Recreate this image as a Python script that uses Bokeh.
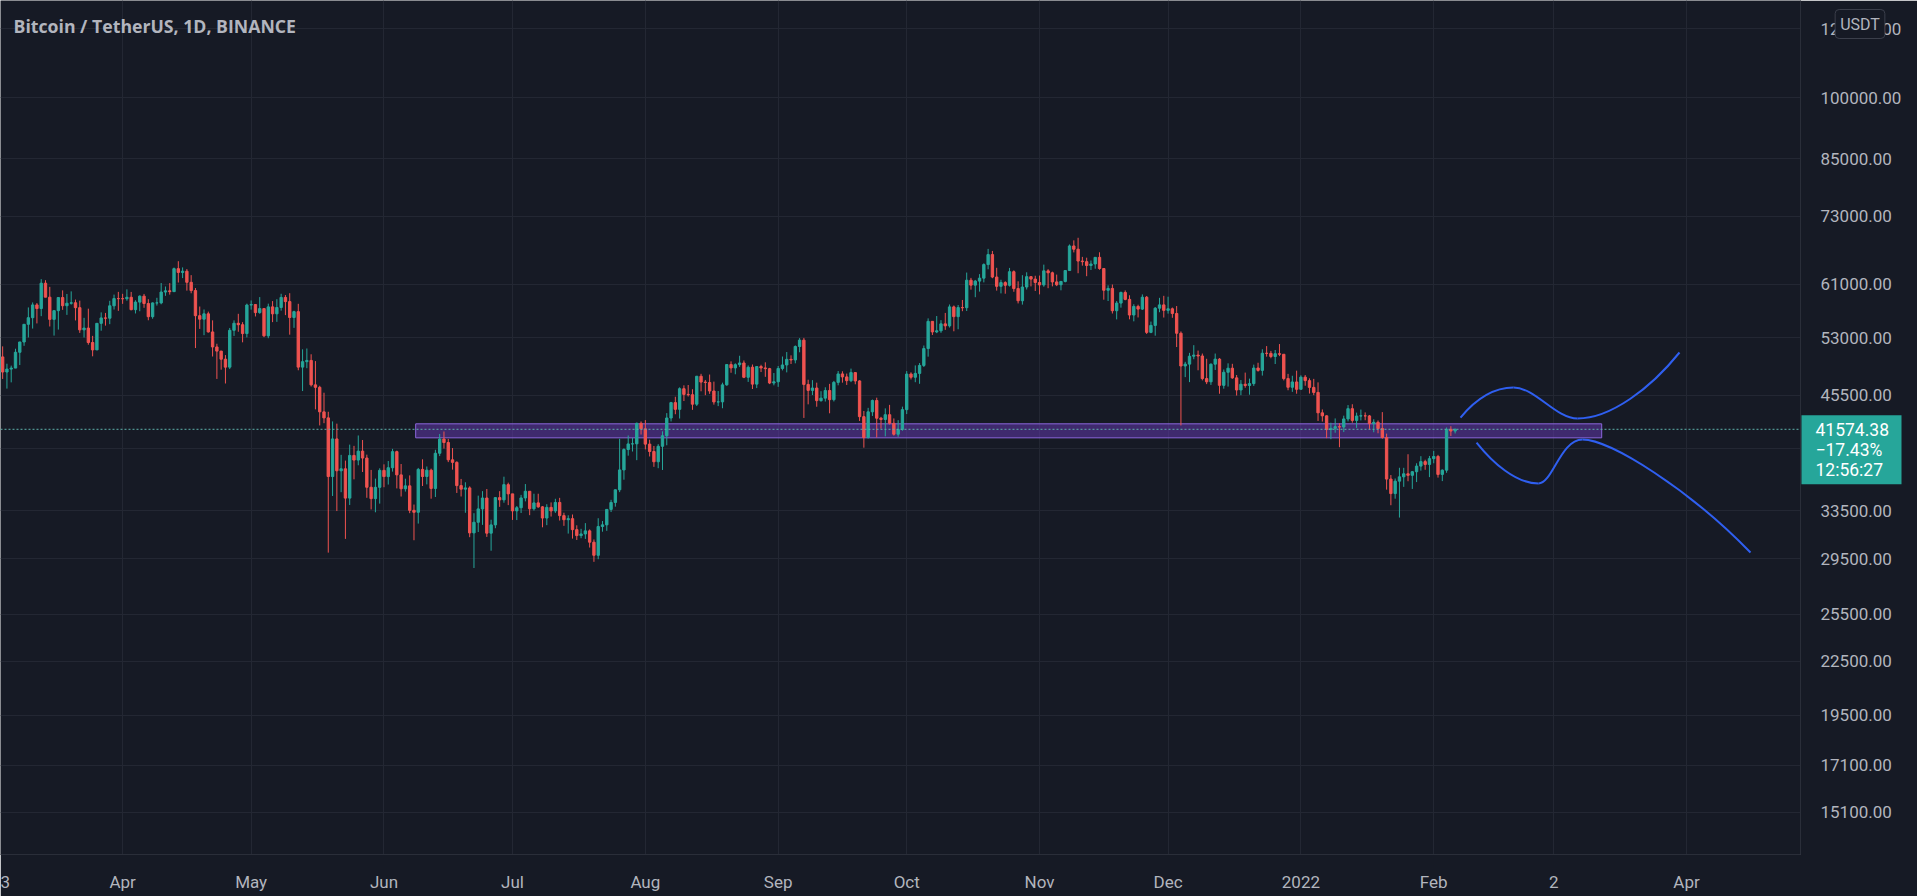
import numpy as np
import pandas as pd
from bokeh.plotting import figure
from bokeh.models import (FixedTicker, PrintfTickFormatter, Span, Label, Range1d, ColumnDataSource, Row)
from bokeh.embed import file_html
from bokeh.resources import INLINE

# ---------------- data (BTCUSDT daily) ----------------
start_date = "2021-03-03"
first_open = 48436.0

close = [
    # Mar 3 - Mar 31
    50349, 48374, 48751, 48882, 50971, 52375, 54884, 55851, 57773, 57221, 61188, 58968, 55605, 56900, 58912,
    57648, 58030, 58102, 57351, 54083, 54340, 52303, 51293, 55025, 55817, 55777, 57635, 58746, 58740,
    # Apr
    58720, 58950, 57051, 58202, 59129, 57992, 56000, 58080, 58083, 59774, 59964, 59835, 63588, 62959, 63159,
    61334, 60006, 56150, 55633, 56425, 53787, 51690, 51125, 50047, 49004, 54021, 55034, 54824, 53555, 57750,
    # May
    57828, 56610, 57213, 53241, 57473, 56428, 57380, 58928, 58280, 55883, 56750, 49007, 49716, 49880, 46760,
    46457, 43538, 42849, 36690, 40526, 37252, 37449, 34655, 38796, 38324, 39241, 38529, 35664, 34607, 35658, 37293,
    # Jun
    36687, 37555, 39187, 36851, 35520, 35797, 33552, 33380, 37389, 36693, 37313, 35551, 39020, 40516, 40144,
    38349, 38092, 35820, 35484, 35600, 31608, 32510, 33678, 34663, 31584, 32283, 34700, 34494, 35911, 35045,
    # Jul
    33504, 33786, 34669, 35287, 33690, 34220, 33863, 32875, 33815, 33502, 34259, 33086, 32729, 32820, 31880,
    31383, 31520, 31778, 30839, 29790, 32144, 32287, 33634, 34258, 35425, 37337, 39406, 39995, 40008, 42235, 41626,
    # Aug
    39975, 39201, 38153, 39747, 40870, 42836, 44614, 43829, 46286, 45596, 45553, 44428, 47835, 47107, 47049,
    46005, 44696, 44705, 46761, 49339, 48906, 49322, 49546, 47707, 48992, 46851, 49078, 48898, 48807, 46990, 47144,
    # Sep
    48833, 49287, 50026, 49944, 51753, 52633, 46812, 46082, 46368, 44848, 45144, 46063, 44964, 47069, 48130,
    47754, 47281, 48300, 47247, 42986, 40679, 43540, 44865, 42811, 42670, 43208, 42236, 41034, 41564, 43790,
    # Oct
    48116, 47711, 48200, 49225, 51472, 55315, 53785, 53951, 54950, 54659, 57471, 56006, 57367, 57347, 61672,
    60875, 61528, 62009, 64280, 66001, 62193, 60688, 61286, 60852, 63078, 60328, 58413, 60575, 62253, 61859, 61299,
    # Nov
    60911, 63219, 62896, 61395, 60937, 61470, 63273, 67525, 66947, 64882, 64774, 64122, 64380, 65520, 63606,
    60058, 60345, 56891, 58052, 59707, 58623, 56247, 57541, 57138, 58960, 53726, 54721, 57274, 57776, 56951,
    # Dec
    57184, 56480, 53601, 49152, 49396, 50441, 50588, 50471, 47545, 47140, 49389, 50053, 46702, 48343, 48864,
    47632, 46131, 46834, 46681, 46914, 48889, 48588, 50838, 50820, 50400, 50775, 50701, 47543, 46464, 47120, 46216,
    # Jan 2022
    47722, 47286, 46446, 45833, 43425, 43081, 41546, 41678, 41864, 41822, 42729, 43902, 42560, 43059, 43084,
    43071, 42201, 42352, 41660, 40680, 36445, 35071, 36244, 36660, 36958, 36809, 37160, 37716, 38166, 37881, 38466,
    # Feb 1 - Feb 6
    38690, 36896, 37311, 41571, 41382, 41574.38,
]

high = [
    52640, 51773, 49448, 49200, 51450, 52402, 54900, 57387, 58150, 58058, 61844, 61683, 60600, 56938, 58981,
    60040, 59468, 59880, 58592, 58430, 55830, 57200, 53229, 55073, 56640, 56559, 58405, 59368, 59800,
    59490, 60200, 59791, 58493, 59250, 59475, 58650, 58153, 58869, 61218, 60658, 61200, 63774, 64854, 63800,
    63520, 62506, 60408, 57526, 57076, 56757, 55460, 52130, 51166, 50591, 54356, 55460, 56428, 55195, 57963,
    58458, 57911, 58981, 57200, 57964, 58360, 58650, 59500, 59300, 59592, 56888, 57939, 51367, 51483, 50700,
    49795, 46643, 45799, 43546, 42451, 42200, 38856, 38270, 39920, 39791, 40900, 40411, 38877, 37338, 36488, 37499,
    37894, 38225, 39476, 39289, 37925, 36480, 36800, 34068, 37534, 38400, 37680, 37463, 39380, 41064, 41330,
    40528, 39560, 38200, 36457, 36137, 35750, 33298, 34881, 35298, 35500, 32730, 34749, 35297, 36675, 36100,
    35035, 33939, 34952, 35967, 35293, 35059, 35059, 33929, 34100, 34262, 34592, 34678, 33340, 33114, 33185,
    32249, 31949, 32435, 31899, 31063, 32858, 32615, 33650, 34500, 35450, 40550, 39542, 40900, 40640, 42316, 42448,
    42600, 40446, 39780, 39969, 41350, 43392, 44700, 45310, 46454, 46700, 46743, 46218, 47886, 48144, 47372,
    48053, 47160, 46000, 47033, 49382, 49757, 49500, 50500, 49875, 49229, 49347, 49149, 49309, 49632, 48908, 48246,
    49150, 50400, 51000, 50558, 51900, 52920, 52944, 47400, 47346, 47033, 45980, 46460, 46880, 47250, 48500,
    48469, 48176, 48813, 48372, 47337, 43639, 44000, 44978, 45200, 42966, 43937, 44350, 42787, 42590, 44141,
    48495, 48336, 49228, 49536, 51886, 55750, 55333, 56100, 55490, 56561, 57839, 57680, 57750, 58532, 62933,
    62055, 61720, 62675, 64486, 67000, 66639, 63732, 61747, 61500, 63710, 63293, 61496, 62499, 62980, 62359, 62405,
    62437, 64270, 63500, 63086, 62595, 61560, 63286, 67789, 68530, 69000, 65600, 65460, 64971, 65550, 66401,
    63617, 60840, 60976, 58366, 59845, 60029, 59266, 57875, 57803, 59398, 59150, 55280, 57445, 58865, 59176,
    59041, 57375, 57600, 53859, 49699, 50891, 51936, 51200, 50797, 50099, 49485, 50797, 50189, 48700, 49500,
    49436, 47995, 47360, 48300, 47537, 49328, 49576, 51375, 51810, 51156, 51280, 52088, 50704, 48139, 47900, 48548,
    47954, 47990, 47570, 47505, 47070, 43816, 43145, 42300, 42786, 42248, 43100, 44322, 44423, 43448, 43800,
    43475, 43179, 42691, 42559, 43505, 41100, 36835, 36499, 37550, 37545, 38919, 37234, 38000, 38720, 38359, 38744,
    39265, 38855, 37387, 41772, 41913, 41650,
]

low = [
    48100, 47500, 46300, 47070, 48880, 49274, 51846, 53005, 54269, 55012, 56078, 58966, 54568, 53271, 54123,
    57023, 56270, 57820, 55450, 53650, 53000, 52000, 50427, 51262, 53962, 54691, 54901, 57071, 56873,
    57935, 58414, 56956, 56478, 56817, 57333, 55473, 55700, 57672, 57870, 59177, 59369, 59805, 61301, 62020,
    60000, 59580, 51541, 54221, 53329, 53695, 50400, 47500, 48676, 46930, 48753, 53222, 53813, 52330, 53013,
    57052, 56035, 56435, 53046, 52900, 55200, 55241, 56900, 56235, 53400, 54370, 48600, 46000, 48868, 46555,
    43825, 42001, 42250, 30000, 34850, 33488, 35200, 31111, 34031, 36419, 37800, 37134, 34684, 33633, 33379, 34153,
    35667, 35920, 37170, 35555, 34800, 35258, 33300, 31000, 32396, 35782, 35936, 34600, 34757, 38730, 39506,
    38116, 37365, 35129, 34803, 33336, 31251, 28805, 31683, 32286, 31275, 30151, 32000, 33862, 34232, 34017,
    32711, 32699, 33316, 34357, 33125, 33532, 33777, 32077, 32261, 33004, 33326, 32658, 32202, 31550, 31133,
    31020, 31164, 31108, 30407, 29278, 29482, 31708, 31780, 33401, 33881, 35205, 36383, 38772, 39200, 38313, 41000,
    39422, 38690, 37642, 37508, 37332, 39853, 42446, 43261, 42779, 44800, 45341, 43770, 44217, 45971, 45500,
    45660, 44376, 44203, 43955, 46644, 48280, 48088, 49029, 47600, 47126, 46250, 46361, 48370, 47762, 46853, 46700,
    46512, 48584, 48328, 49412, 49500, 50969, 42843, 44412, 45513, 44132, 44722, 44743, 43370, 44750, 46703,
    47035, 46750, 47100, 46829, 42500, 39600, 40565, 43069, 40675, 41646, 40803, 42098, 40888, 40753, 41410,
    43283, 47430, 47088, 46891, 49022, 50382, 53357, 53617, 53661, 54080, 54415, 53879, 54167, 56818, 56850,
    60150, 58963, 59844, 61322, 63481, 62000, 60000, 59562, 59510, 60650, 59817, 58000, 57820, 60174, 60673, 59945,
    59405, 60624, 60382, 60677, 60721, 60050, 61322, 63250, 66382, 62822, 64100, 62333, 63360, 63576, 63400,
    58574, 58373, 56474, 55600, 57353, 58486, 55610, 55317, 55888, 57000, 53500, 53610, 53256, 56666, 55875,
    56458, 55837, 51680, 42000, 47727, 47100, 50039, 48600, 47320, 46852, 46751, 48638, 45672, 46290, 46547,
    47511, 45456, 45500, 46406, 45558, 46630, 48422, 47920, 50384, 50171, 49412, 50449, 47313, 46096, 45900, 45678,
    46208, 46654, 45696, 45502, 42500, 42430, 40610, 40501, 41200, 39650, 41268, 42450, 42304, 41725, 42563,
    42581, 41540, 41250, 41138, 40553, 35440, 34008, 34601, 32917, 35701, 36234, 35507, 36155, 37268, 37351, 36632,
    38000, 36586, 36250, 37055, 40843, 41116,
]

# time axis: days counted from 2021-04-01
axis_origin = "2021-04-01"
month_starts = ["2021-04-01", "2021-05-01", "2021-06-01", "2021-07-01", "2021-08-01", "2021-09-01",
                "2021-10-01", "2021-11-01", "2021-12-01", "2022-01-01", "2022-02-01", "2022-03-01",
                "2022-04-01"]
month_labels = ["Apr", "May", "Jun", "Jul", "Aug", "Sep", "Oct", "Nov", "Dec", "2022", "Feb", "2", "Apr"]
edge_label = "3"          # clipped label at the very left of the time scale

price_ticks = [15100, 17100, 19500, 22500, 25500, 29500, 33500, 39500, 45500, 53000, 61000, 73000,
               85000, 100000, 120000]

# purple support zone (days from origin, prices)
zone_days = [68.4, 345.2]
zone_prices = [40645, 42180]

# projection drawings: cubic bezier segments (days from origin, prices)
proj_x0 = [312.25, 324.62, 339.56, 315.99, 330.46, 340.72]
proj_y0 = [42886, 46431, 42775, 40145, 36018, 40464]
proj_cx0 = [315.75, 329.75, 347.26, 319.72, 333.72, 347.26]
proj_cy0 = [44983, 46431, 42775, 38078, 36018, 40464]
proj_cx1 = [319.72, 334.42, 356.59, 325.09, 335.59, 365.93]
proj_cy1 = [46431, 42775, 46308, 36018, 40464, 35357]
proj_x1 = [324.62, 339.56, 363.36, 330.46, 340.72, 379.93]
proj_y1 = [46431, 42775, 50939, 36018, 40464, 30008]

price_text = ["41574.38", "\u221217.43%", "12:56:27"]
currency_text = "USDT"
title_text = "Bitcoin / TetherUS, 1D, BINANCE"

# ---------------- build ----------------
assert len(close) == len(high) == len(low)
n = len(close)
dates = pd.date_range(start_date, periods=n, freq="D")
origin = pd.Timestamp(axis_origin)
xs = np.array((dates - origin).days, dtype=float)
opens = np.array([first_open] + close[:-1], dtype=float)
closes = np.array(close, dtype=float)
UP, DOWN = "#26a69a", "#ef5350"
colors = [UP if c >= o else DOWN for o, c in zip(opens, closes)]
src = ColumnDataSource(dict(
    x=xs, open=opens, close=closes, high=np.array(high, float), low=np.array(low, float),
    top=np.maximum(opens, closes), bottom=np.minimum(opens, closes), color=colors))

tick_pos = [(pd.Timestamp(m) - origin).days for m in month_starts]

BG = "#161a25"
GRID = "#232733"
SEP = "#2a2e39"
TXT = "#b2b5be"

W, H = 1917, 896
RIGHT, BOTTOM = 117, 42
FRAME_W, FRAME_H = W - RIGHT, H - BOTTOM
X0, X1 = -28.5, 391.6
Y0, Y1 = 13499, 129260

p = figure(width=W, height=H, x_range=Range1d(X0, X1), y_range=Range1d(Y0, Y1),
           y_axis_type="log", y_axis_location="right", output_backend="svg", toolbar_location=None,
           min_border_left=0, min_border_right=RIGHT, min_border_top=0, min_border_bottom=BOTTOM,
           background_fill_color=BG, border_fill_color=BG, outline_line_color=None)

# grids
p.xgrid.ticker = FixedTicker(ticks=tick_pos)
p.ygrid.ticker = FixedTicker(ticks=price_ticks)
p.xgrid.grid_line_color = GRID
p.ygrid.grid_line_color = GRID

# axes
edge_tick = X0 + 4.0 * (X1 - X0) / FRAME_W
xa = p.xaxis[0]
xa.ticker = FixedTicker(ticks=[edge_tick] + tick_pos, minor_ticks=[])
overrides = {t: lab for t, lab in zip(tick_pos, month_labels)}
overrides[edge_tick] = edge_label
xa.major_label_overrides = overrides
xa.axis_line_color = SEP
xa.major_tick_line_color = None
xa.minor_tick_line_color = None
xa.major_label_text_color = TXT
xa.major_label_text_font = "Roboto"
xa.major_label_text_font_size = "17px"
xa.major_label_standoff = 11

ya = p.yaxis[0]
ya.ticker = FixedTicker(ticks=price_ticks, minor_ticks=[])
ya.formatter = PrintfTickFormatter(format="%.2f")
ya.axis_line_color = SEP
ya.major_tick_line_color = None
ya.minor_tick_line_color = None
ya.major_label_text_color = TXT
ya.major_label_text_font = "Roboto"
ya.major_label_text_font_size = "17px"
ya.major_label_standoff = 14

# zone
p.quad(left=[zone_days[0]], right=[zone_days[1]], bottom=[zone_prices[0]], top=[zone_prices[1]],
       fill_color="#673ab7", fill_alpha=0.5, line_color="#8b66dc", line_width=1)

# last price line
p.add_layout(Span(location=close[-1], dimension="width", line_color="#5fb3ac", line_dash="2 2",
                  line_width=1))

# candles
p.segment(x0="x", y0="high", x1="x", y1="low", line_color="color", line_width=1, source=src)
p.vbar(x="x", width=0.55, top="top", bottom="bottom", fill_color="color", line_color="color",
       line_width=1, source=src)

# projections
p.bezier(x0=proj_x0, y0=proj_y0, x1=proj_x1, y1=proj_y1, cx0=proj_cx0, cy0=proj_cy0,
         cx1=proj_cx1, cy1=proj_cy1, line_color="#2f5ff0", line_width=2)

# title
p.add_layout(Label(x=13, y=FRAME_H - 25, x_units="screen", y_units="screen", text=title_text,
                   text_font="Open Sans", text_font_style="bold", text_font_size="17.7px",
                   text_color=TXT, text_baseline="middle"))

# ---------------- transparent overlay for the price-scale widgets ----------------
# Annotations of the main plot are clipped to its frame, so the widgets that sit on the
# price scale are drawn by a second, transparent plot laid on top of the first one
# (negative left margin).  Its frame is aligned with the main frame's height, and its
# coordinates are canvas pixels, y measured from the top.
ov = figure(width=W, height=H, x_range=Range1d(0, W), y_range=Range1d(FRAME_H, 0), output_backend="svg",
            toolbar_location=None, x_axis_type=None, y_axis_type=None,
            min_border_left=0, min_border_right=0, min_border_top=0, min_border_bottom=0,
            background_fill_color=None, border_fill_color=None, outline_line_color=None,
            margin=(0, 0, 0, -W))
ov.xgrid.visible = False
ov.ygrid.visible = False


def price_to_py(price):
    return (np.log(Y1) - np.log(price)) / (np.log(Y1) - np.log(Y0)) * FRAME_H


last_py = price_to_py(close[-1])

# current price box (first line sits on the last-price level)
ov.quad(left=[FRAME_W + 1], right=[FRAME_W + 101], top=[last_py - 14], bottom=[last_py + 55],
        fill_color="#26a69a", line_color=None)
ov.add_layout(Label(x=FRAME_W + 15, y=last_py + 20.5, text="\n".join(price_text), text_font="Roboto",
                    text_font_size="17.5px", text_color="#ffffff", text_align="left",
                    text_baseline="middle", text_line_height=1.0))

# currency button
ov.add_layout(Label(x=FRAME_W + 59.5, y=23.5, text=currency_text, text_font="Roboto",
                    text_font_size="16px", text_color=TXT, text_align="center", text_baseline="middle",
                    background_fill_color=BG, border_line_color="#3b3f4b", padding=5, border_radius=4))

layout = Row(children=[p, ov], spacing=0)

open("out.html", "w").write(file_html(layout, INLINE))
